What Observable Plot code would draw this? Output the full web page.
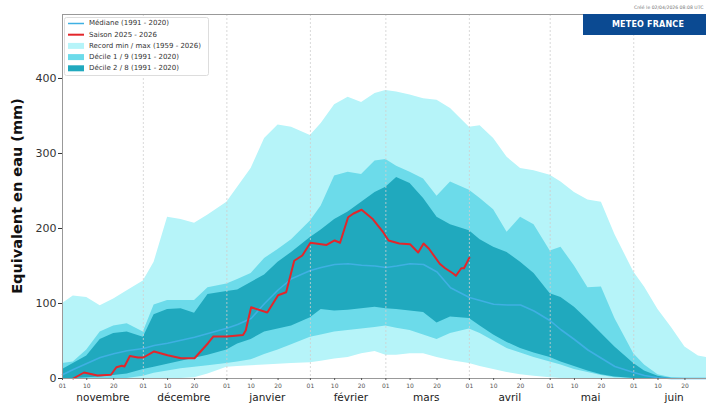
<!DOCTYPE html>
<html><head><meta charset="utf-8">
<script src="https://cdn.jsdelivr.net/npm/d3@7"></script>
<script src="https://cdn.jsdelivr.net/npm/@observablehq/plot@0.6"></script>
<style>
body{margin:0;background:#fff;}
#chart{position:relative;width:706px;height:405px;overflow:hidden;}
</style>
</head><body><div id="chart"></div>
<script>
// ---- climatology (common date grid) ----
const dates = ["2025-11-01","2025-11-05","2025-11-10","2025-11-15","2025-11-20","2025-11-25",
 "2025-12-01","2025-12-05","2025-12-10","2025-12-15","2025-12-20","2025-12-25",
 "2026-01-01","2026-01-05","2026-01-10","2026-01-15","2026-01-20","2026-01-25",
 "2026-02-01","2026-02-05","2026-02-10","2026-02-15","2026-02-20","2026-02-25",
 "2026-03-01","2026-03-05","2026-03-10","2026-03-15","2026-03-20","2026-03-25",
 "2026-04-01","2026-04-05","2026-04-10","2026-04-15","2026-04-20","2026-04-25",
 "2026-05-01","2026-05-05","2026-05-10","2026-05-15","2026-05-20","2026-05-25",
 "2026-06-01","2026-06-05","2026-06-10","2026-06-15","2026-06-20","2026-06-25","2026-06-28"];
const recordMax = [100,110,108,97,106,117,130,155,215,212,207,218,235,255,280,320,338,335,324,340,365,375,368,380,384,382,378,373,371,360,335,337,320,295,280,277,271,262,248,238,235,192,142,122,92,68,42,30,28];
const recordMin = [0,0,0,0,0,0,0,0,0,0,1,6,15,16,17,18,19,20,21,23,26,28,33,36,31,31,33,33,28,24,20,16,12,8,5,3,1,0,0,0,0,0,0,0,0,0,0,0,0];
const decile9 = [20,22,38,62,70,73,62,98,104,104,104,121,126,132,140,160,172,185,210,230,270,275,272,290,292,283,275,266,243,262,251,240,225,195,215,205,170,175,150,121,122,80,33,18,5,1,0,0,0];
const decile1 = [0,0,0,0,0,0,3,7,10,13,15,17,20,22,25,32,38,45,55,58,62,64,66,68,70,67,64,58,52,60,66,60,50,40,34,28,22,18,12,8,4,1,0,0,0,0,0,0,0];
const decile8 = [12,20,30,52,60,62,55,85,92,93,87,112,116,118,128,138,155,168,188,198,212,222,235,248,255,268,260,240,215,205,197,185,175,168,155,140,113,108,95,78,60,42,20,10,3,0,0,0,0];
const decile2 = [0,0,1,2,4,6,12,15,19,23,27,31,38,46,52,62,66,70,81,92,90,91,93,95,93,92,90,88,74,82,80,70,58,48,40,34,28,22,16,10,5,2,0,0,0,0,0,0,0];
const median = [5,12,20,28,33,37,40,44,47,51,55,60,67,72,80,100,118,133,144,148,152,153,151,150,148,150,153,152,142,121,108,104,99,98,98,90,77,65,52,38,27,16,8,4,1,0,0,0,0];

// ---- season 2025-2026 ----
const seasonDates = ["2025-11-05","2025-11-09","2025-11-14","2025-11-19","2025-11-21","2025-11-23","2025-11-24","2025-11-26","2025-11-29","2025-12-01",
 "2025-12-05","2025-12-10","2025-12-15","2025-12-20","2025-12-22","2025-12-25","2025-12-27","2026-01-01","2026-01-07","2026-01-08",
 "2026-01-10","2026-01-16","2026-01-20","2026-01-23","2026-01-26","2026-01-29","2026-02-01","2026-02-07","2026-02-10","2026-02-12",
 "2026-02-15","2026-02-17","2026-02-20","2026-02-24","2026-02-28","2026-03-02","2026-03-06","2026-03-10","2026-03-13","2026-03-15",
 "2026-03-17","2026-03-21","2026-03-23","2026-03-26","2026-03-27","2026-03-29","2026-03-30","2026-04-01"];
const seasonValues = [0,8,4,5,15,17,16,30,28,28,36,31,27,27,35,47,56,56,58,64,95,88,111,115,157,164,181,178,184,181,215,220,225,213,195,184,180,179,168,180,173,153,147,140,137,147,147,161];

// ---- axes ----
const tickDates = ["2025-11-01","2025-11-10","2025-11-20","2025-12-01","2025-12-10","2025-12-20",
 "2026-01-01","2026-01-10","2026-01-20","2026-02-01","2026-02-10","2026-02-20",
 "2026-03-01","2026-03-10","2026-03-20","2026-04-01","2026-04-10","2026-04-20",
 "2026-05-01","2026-05-10","2026-05-20","2026-06-01","2026-06-10","2026-06-20"];
const monthStarts = ["2025-12-01","2026-01-01","2026-02-01","2026-03-01","2026-04-01","2026-05-01","2026-06-01"];
const monthLabelDates = ["2025-11-16","2025-12-16","2026-01-16","2026-02-16","2026-03-16","2026-04-16","2026-05-16","2026-06-16"];
const monthNames = ["novembre","décembre","janvier","février","mars","avril","mai","juin"];
const yTicks = [0,100,200,300,400];
const domainX = ["2025-11-01","2026-06-28"];
const yMax = 485.3;

const legendItems = [
 {label:"Médiane (1991 - 2020)", kind:"line", color:"#3fb0e3", w:1.5},
 {label:"Saison 2025 - 2026", kind:"line", color:"#e3262b", w:2},
 {label:"Record min / max (1959 - 2026)", kind:"patch", color:"#b6f4f9"},
 {label:"Décile 1 / 9 (1991 - 2020)", kind:"patch", color:"#6cdbea"},
 {label:"Décile 2 / 8 (1991 - 2020)", kind:"patch", color:"#20a9be"}
];

const P = s => new Date(s + "T00:00:00Z");
const clim = dates.map((d,i) => ({date:P(d), rmax:recordMax[i], rmin:recordMin[i], d9:decile9[i], d1:decile1[i], d8:decile8[i], d2:decile2[i], med:median[i]}));
const season = seasonDates.map((d,i) => ({date:P(d), v:seasonValues[i]}));
const monthLabelMap = new Map(monthLabelDates.map((d,i)=>[+P(d), monthNames[i]]));

const svg = Plot.plot({
  width:706, height:405,
  marginLeft:62, marginTop:14, marginRight:0, marginBottom:27,
  style:{fontFamily:"'DejaVu Sans', sans-serif", background:"#fff", overflow:"hidden"},
  x:{type:"utc", domain:domainX.map(P)},
  y:{domain:[0,yMax]},
  marks:[
    Plot.areaY(clim, {x:"date", y1:"rmin", y2:"rmax", fill:"#b6f4f9"}),
    Plot.areaY(clim, {x:"date", y1:"d1", y2:"d9", fill:"#6cdbea"}),
    Plot.areaY(clim, {x:"date", y1:"d2", y2:"d8", fill:"#20a9be"}),
    Plot.line(clim, {x:"date", y:"med", stroke:"#3fb0e3", strokeWidth:1.6}),
    Plot.ruleX(monthStarts.map(P), {stroke:"#cfcfcf", strokeWidth:0.8, strokeDasharray:"2,2"}),
    Plot.line(season, {x:"date", y:"v", stroke:"#e3262b", strokeWidth:2}),
    Plot.ruleY([0, yMax], {stroke:"#999", strokeWidth:1}),
    Plot.ruleX([P(domainX[0])], {stroke:"#999", strokeWidth:1}),
    Plot.axisY({ticks:yTicks, tickSize:4, tickPadding:2, fontSize:11, label:null, color:"#333", tickFormat:d=>String(d)}),
    Plot.axisX({ticks:tickDates.map(P), tickFormat:d3.utcFormat("%d"), tickSize:2, tickPadding:3, fontSize:6, label:null, color:"#555"}),
    Plot.axisX({ticks:monthLabelDates.map(P), tickFormat:d=>monthLabelMap.get(+d), tickSize:0, tickPadding:15.5, fontSize:10.5, label:null, color:"#222"})
  ]
});
document.getElementById("chart").appendChild(svg);

const s = d3.select(svg);
const FF = "'DejaVu Sans', sans-serif";
// y label
s.append("text").attr("transform","translate(18,196) rotate(-90)")
 .attr("text-anchor","middle").attr("dominant-baseline","middle")
 .attr("font-family",FF).attr("font-weight","bold")
 .attr("font-size",14.5).attr("fill","#111").text("Equivalent en eau (mm)");

// legend
const lg = s.append("g").attr("font-family",FF).attr("text-anchor","start");
lg.append("rect").attr("x",64.5).attr("y",17.5).attr("width",144).attr("height",58)
  .attr("fill","#fff").attr("stroke","#ddd").attr("rx",2);
legendItems.forEach((it,i)=>{
  const y = 23.5 + i*11.2;
  if (it.kind==="line") {
    lg.append("line").attr("x1",68).attr("x2",84).attr("y1",y).attr("y2",y)
      .attr("stroke",it.color).attr("stroke-width",it.w);
  } else {
    lg.append("rect").attr("x",68).attr("y",y-3).attr("width",16).attr("height",6).attr("fill",it.color);
  }
  lg.append("text").attr("x",89).attr("y",y).attr("dominant-baseline","middle")
    .attr("text-anchor","start").attr("font-size",7).attr("fill","#333").text(it.label);
});

// Meteo France box
s.append("rect").attr("x",583).attr("y",14).attr("width",123).attr("height",21).attr("fill","#0b4a92");
s.append("text").attr("x",648).attr("y",24.5).attr("text-anchor","middle").attr("dominant-baseline","middle")
 .attr("font-family",FF).attr("font-weight","bold").attr("font-size",8)
 .attr("letter-spacing",0.2).attr("fill","#fff").text("METEO FRANCE");
s.append("text").attr("x",634).attr("y",9).attr("text-anchor","start").attr("font-family",FF)
 .attr("font-size",4.6).attr("fill","#777").text("Créé le 02/04/2026 08:08 UTC");
</script>
</body></html>
